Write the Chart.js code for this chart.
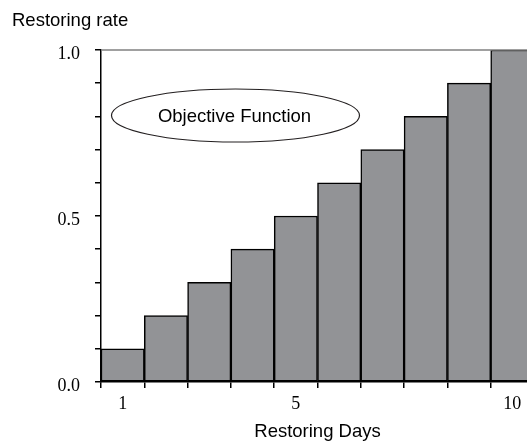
<!DOCTYPE html>
<html><head><meta charset="utf-8">
<script src="https://cdn.jsdelivr.net/npm/chart.js@4.4.1/dist/chart.umd.min.js"></script>
<style>html,body{margin:0;padding:0;overflow:hidden;background:#fff;width:527px;height:445px}canvas{display:block}</style>
</head><body>
<canvas id="c" width="545" height="445"></canvas>
<script>
const days = ['1','2','3','4','5','6','7','8','9','10'];
const rates = [0.1,0.2,0.3,0.4,0.5,0.6,0.7,0.8,0.9,1.0];
const shownDays = ['1','5','10'];
const shownRates = [0, 0.5, 1.0];
const yTitle = 'Restoring rate';
const xTitle = 'Restoring Days';
const note = 'Objective Function';

const deco = {
  id:'deco',
  afterDatasetsDraw(chart){
    const ctx = chart.ctx, a = chart.chartArea;
    ctx.save();
    ctx.strokeStyle = '#808080'; ctx.lineWidth = 1.5;
    ctx.beginPath(); ctx.moveTo(a.left, a.top); ctx.lineTo(a.right, a.top); ctx.stroke();
    ctx.fillStyle = '#000';
    ctx.font = '18.5px "Liberation Sans", Arial, sans-serif';
    ctx.textBaseline = 'alphabetic'; ctx.textAlign = 'left';
    ctx.fillText(yTitle, 12, 26);
    // ellipse note
    const cx = a.left + 134.5, cy = a.top + 65.5;
    ctx.strokeStyle = '#231f20'; ctx.lineWidth = 1.2;
    ctx.beginPath(); ctx.ellipse(cx, cy, 124, 26.5, 0, 0, Math.PI*2); ctx.stroke();
    ctx.font = '18.5px "Liberation Sans", Arial, sans-serif';
    ctx.textAlign = 'center'; ctx.textBaseline = 'middle';
    ctx.fillText(note, cx - 1, cy + 1);
    ctx.restore();
  }
};

new Chart(document.getElementById('c'), {
  type:'bar',
  data:{labels:days, datasets:[{data:rates, backgroundColor:'#929396', borderColor:'#000', borderWidth:1.5, borderSkipped:false, categoryPercentage:1, barPercentage:1}]},
  options:{
    responsive:false, animation:false, devicePixelRatio:1,
    layout:{padding:{top:50,right:11,left:0,bottom:0}},
    plugins:{legend:{display:false}, tooltip:{enabled:false}},
    scales:{
      x:{
        grid:{display:true, drawOnChartArea:false, tickLength:6, color:'#000', lineWidth:1.5, offset:true},
        border:{display:true, color:'#000', width:1.5},
        ticks:{autoSkip:false, maxRotation:0, color:'#000', padding:5,
          font:{family:'"Liberation Serif", "Times New Roman", serif', size:18},
          callback:function(v,i){ const l = days[i]; return shownDays.includes(l) ? l : ''; }},
        title:{display:true, text:xTitle, color:'#000', font:{family:'"Liberation Sans", Arial, sans-serif', size:18.5}, padding:{top:4,bottom:2}},
        afterFit(s){ s.height = 63; }
      },
      y:{
        min:0, max:1,
        grid:{display:true, drawOnChartArea:false, tickLength:6, color:'#000', lineWidth:1.5},
        border:{display:true, color:'#000', width:1.5},
        ticks:{stepSize:0.1, color:'#000', padding:15, labelOffset:4,
          font:{family:'"Liberation Serif", "Times New Roman", serif', size:18},
          callback:function(v){ return shownRates.some(r=>Math.abs(r-v)<1e-6) ? v.toFixed(1) : ''; }},
        afterFit(s){ s.width = 101; }
      }
    }
  },
  plugins:[deco]
});
</script>
</body></html>
